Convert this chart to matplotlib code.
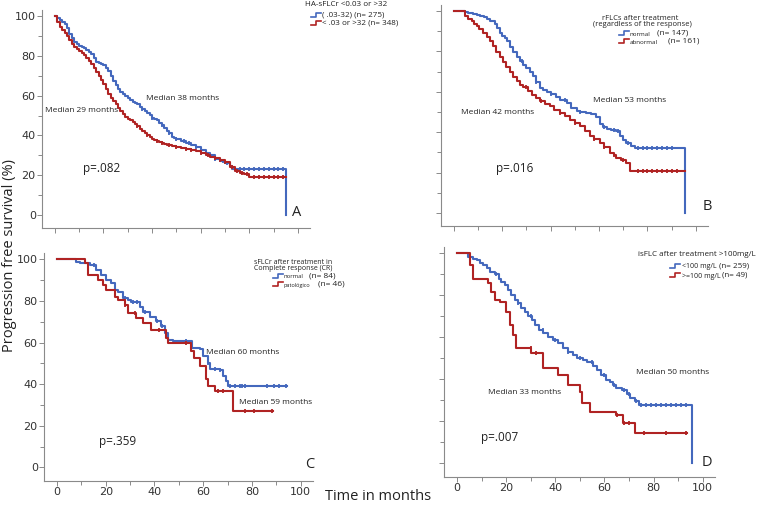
import numpy as np
import matplotlib
matplotlib.use("Agg")
import matplotlib.pyplot as plt
from matplotlib.lines import Line2D

plt.rcParams['font.family'] = ['DejaVu Sans']

BLUE = "#4468bd"
RED = "#b02323"

# ---------------- data ----------------
# Panel A
a_blue_t = [0, 1, 2, 3, 4, 5, 6, 7, 8, 9, 10, 11, 12, 13, 14, 15, 16, 17, 18, 19, 20, 21, 22, 23, 24, 25, 26, 27, 28, 29, 30,
            31, 32, 33, 34, 35, 36, 37, 38, 39, 40, 41, 42, 43, 44, 45, 46, 47, 48, 49, 50, 52, 54, 56, 58, 60, 62, 64, 66, 68,
            70, 72, 73, 95.2]
a_blue_s = [100, 99, 98, 97, 96, 94, 91, 89, 87, 86, 85, 84.5, 84, 83, 82, 81, 79, 77, 76.5, 76, 75.5, 74, 72.5, 70, 67.5,
            65.5, 63.5, 62, 61, 60, 59, 58, 57, 56.5, 56, 54.5, 53.5, 52.5, 51.5, 50.5, 49, 48, 47.5, 46, 45, 43.8, 42, 41, 39,
            38.5, 38, 37, 36, 35, 34, 32.5, 31, 30, 28, 27, 26, 24.5, 22.9, 0]
a_red_t = [0, 1, 2, 3, 4, 5, 6, 7, 8, 9, 10, 11, 12, 13, 14, 15, 16, 17, 18, 19, 20, 21, 22, 23, 24, 25, 26, 27, 28, 29, 30,
           31, 32, 33, 34, 35, 36, 37, 38, 39, 40, 41, 42, 43, 44, 45, 46, 48, 50, 52, 54, 56, 58, 60, 62, 64, 66, 68, 70, 72,
           74, 76, 78, 80, 95.2]
a_red_s = [100, 97, 94.5, 93, 91.5, 90, 88, 86, 84.5, 83.5, 82.5, 81.5, 80.5, 79, 77.5, 76, 74, 72, 70, 68, 66, 63.5, 61, 59,
           57.5, 56, 54, 52.5, 51, 49.5, 48.5, 47.5, 46.5, 45.5, 44.5, 43, 42, 41, 40, 39, 38, 37.5, 37, 36.5, 36, 35.5, 35,
           34.5, 34, 33.5, 33, 32.5, 32, 31, 30, 29.3, 28.5, 27.5, 26.5, 24, 22, 21, 20.5, 19.3, 19.3]
a_blue_c = [36, 40, 44, 47, 50, 53, 55, 58, 62, 64, 66, 69, 71, 74, 76, 78, 80, 82, 84, 86, 88, 90, 92, 94]
a_red_c = [34, 38, 42, 44, 47, 50, 54, 56, 60, 63, 66, 68, 70, 73, 75, 77, 79, 82, 84, 86, 88, 90, 92, 94]

# Panel B
b_blue_t = [0, 4.5, 6, 8, 9.4, 11, 12.5, 13.5, 15, 16.9, 18, 19, 20, 21, 21.8, 23, 24.5, 26, 27.3, 28.5, 30, 31.5, 32.8, 34,
            35.5, 37, 38.3, 40, 42.4, 44, 46.6, 48.5, 50.7, 52, 54.8, 56.5, 58.9, 60.3, 61.5, 63.1, 65, 67.2, 68.6, 70, 71.3,
            73, 74.8, 95.5]
b_blue_s = [100, 99.5, 99, 98.5, 98, 97.5, 97, 96, 95, 93.5, 91.5, 89, 87.5, 86.5, 85, 82, 79.5, 77, 75.5, 73.5, 72, 70, 68,
            65, 62, 61, 60, 59, 57.5, 56, 54.5, 52, 50.5, 50, 49.5, 49, 47.5, 44, 42.5, 41.5, 41, 40.5, 38, 36, 34.5, 33, 32.2, 0]
b_red_t = [0, 4.5, 6, 7.3, 8.5, 9.4, 10.5, 12.1, 13.5, 14.9, 16, 17.6, 19, 20.4, 21.5, 23.1, 24.5, 25.9, 27.3, 28.6, 30.5,
           32.1, 34, 35.5, 37.5, 39.7, 41.5, 43.8, 46, 48, 50, 52.1, 54, 56.2, 58, 60.3, 62, 64.5, 66, 67.2, 69, 71.3, 72.7,
           95.5]
b_red_s = [100, 97.5, 96, 95, 93.5, 92.4, 91, 89, 87, 85, 82.5, 79.5, 77, 75, 72.5, 70, 67.5, 65.2, 63.5, 62.4, 60.5, 58.6,
           57, 55.3, 54, 52.8, 51, 49.5, 48, 46.2, 44.5, 42.9, 40.5, 38, 36.5, 34.6, 32.5, 29.7, 28.5, 27.2, 26, 24.7, 20.6,
           20.6]
b_blue_c = [28, 34, 40, 46, 52, 62, 66, 68, 72, 76, 78, 80, 82, 84, 86, 88, 90]
b_red_c = [30, 36, 44, 50, 58, 62, 66, 70, 76, 78, 80, 82, 84, 86, 88, 90, 92]

# Panel C
c_blue_t = [0, 7.9, 9.3, 13.4, 16.1, 18.2, 20.3, 22.3, 23.7, 25, 27.1, 29.1, 30.5, 33.9, 35.3, 38, 40.8, 42.8, 44.2, 45.6,
            47.6, 52.4, 55.2, 58.6, 59.9, 61.9, 62.6, 66.7, 68.1, 69.5, 70.2, 94.4]
c_blue_s = [100, 98.7, 98, 97, 94.8, 92.4, 90, 88.4, 85.2, 84.4, 81.3, 80.5, 79.7, 77.3, 74.9, 72.5, 70.2, 67.8, 64.6, 61.4,
            60.6, 60.6, 57.5, 56.7, 53.5, 50.3, 47.1, 46.8, 44, 41.6, 39.2, 39.2]
c_red_t = [0, 11.4, 12.7, 16.8, 18.9, 20.3, 23.7, 25, 27.8, 29.1, 32.6, 35.3, 38.7, 42.1, 44.9, 45.6, 55.1, 56.4, 58.5, 61.3,
           61.9, 64.7, 70.9, 72.2, 88.6]
c_red_s = [100, 98, 92.4, 90, 87.6, 85.2, 82, 80.5, 78, 74, 71.7, 69.4, 66.2, 66.2, 62.2, 59.8, 55.9, 52.7, 48.7, 42.4, 39.2,
           36.8, 36.8, 27.3, 27.3]
c_blue_c = [15, 24, 28, 31, 33, 36, 41, 43, 53, 62, 65, 67, 71, 73, 75, 76, 77, 86, 89, 91, 94]
c_red_c = [28, 32, 42, 53, 66, 68, 77, 81, 88]

# Panel D
d_blue_t = [0, 4.5, 6.5, 8, 9.2, 10.5, 12, 13.5, 15.4, 17, 18.1, 19.5, 20.8, 22, 23.5, 25, 26.2, 27.5, 28.9, 30.5, 31.7,
            33.5, 35.1, 37, 39.1, 41, 43.2, 45, 47.3, 49, 51.4, 53, 55.4, 57, 58.8, 60.5, 62.2, 63.5, 64.9, 67, 69, 70.5,
            72.4, 74, 75.8, 95.5]
d_blue_s = [100, 98.4, 97.5, 96.8, 95.5, 94.4, 93, 91.3, 90, 88, 86.5, 84.9, 82.5, 80.2, 78, 76.2, 74, 72.2, 70, 68.2, 66,
            63.5, 62, 60.3, 58.5, 57.1, 55, 53.2, 51.5, 50, 49, 48.4, 46.5, 44.4, 42, 39.7, 38.5, 37.3, 36, 34.9, 33, 31,
            29.5, 27.8, 27.8, 0]
d_red_t = [0, 5.2, 6.5, 7.9, 12.6, 14, 15.4, 17.4, 20.1, 21.5, 22.8, 23.9, 30.3, 35.1, 41.2, 45.2, 50, 50.7, 54.1, 64.9,
           67.7, 72.4, 93.5]
d_red_s = [100, 94.4, 88, 88, 85.7, 81.7, 77.8, 77, 72.2, 65.9, 61.1, 54.8, 52.4, 45.2, 42.1, 37.3, 34.1, 28.6, 24.6, 23,
           19, 14.6, 14.6]
d_blue_c = [16, 25, 30, 35, 40, 45, 50, 55, 60, 64, 68, 70, 73, 75, 77, 79, 81, 83, 85, 87, 89, 91, 93]
d_red_c = [30, 32, 65, 68, 70, 76, 85, 93]

# ---------------- figure ----------------
W, H = 757, 507
fig = plt.figure(figsize=(W / 100, H / 100), dpi=100)


def axes_px(left, right, top, bottom):
    return fig.add_axes([left / W, 1 - bottom / H, (right - left) / W, (bottom - top) / H])


def surv_at(t_arr, s_arr, c):
    t_arr = np.asarray(t_arr)
    s_arr = np.asarray(s_arr)
    idx = np.searchsorted(t_arr, c, side='right') - 1
    return s_arr[idx]


def style(ax, ylabels, xlabels):
    ax.set_xlim(-5.3, 105)
    ax.set_ylim(-6.5, 103)
    for s in ['top', 'right']:
        ax.spines[s].set_visible(False)
    for s in ['left', 'bottom']:
        ax.spines[s].set_color('#8a8a8a')
        ax.spines[s].set_linewidth(0.8)
    ax.set_yticks([0, 20, 40, 60, 80, 100])
    ax.set_yticks([10, 30, 50, 70, 90], minor=True)
    ax.set_xticks([0, 20, 40, 60, 80, 100])
    ax.set_xticks([10, 30, 50, 70, 90], minor=True)
    ax.tick_params(which='both', direction='out', color='#8a8a8a', width=0.7)
    ax.tick_params(which='major', length=3.5, labelsize=8, labelcolor='#333333', pad=1)
    ax.tick_params(which='minor', length=3.0)
    if not ylabels:
        ax.set_yticklabels([])
    if not xlabels:
        ax.set_xticklabels([])
    ax.patch.set_alpha(0)


def draw(ax, t, s, c, color):
    ax.step(t, s, where='post', color=color, lw=1.5)
    ax.plot(c, surv_at(t, s, c), linestyle='none', marker='|', markersize=3.5,
            mew=1.3, color=color)


LF = 'Open Sans'

axA = axes_px(42, 310, 10, 228)
axB = axes_px(441, 708, 5, 226)
axC = axes_px(44, 313, 253, 481)
axD = axes_px(444, 715, 247, 477)

style(axA, True, False)
style(axB, False, False)
style(axC, True, True)
style(axD, False, True)

draw(axA, a_blue_t, a_blue_s, a_blue_c, BLUE)
draw(axA, a_red_t, a_red_s, a_red_c, RED)
draw(axB, b_blue_t, b_blue_s, b_blue_c, BLUE)
draw(axB, b_red_t, b_red_s, b_red_c, RED)
draw(axC, c_blue_t, c_blue_s, c_blue_c, BLUE)
draw(axC, c_red_t, c_red_s, c_red_c, RED)
draw(axD, d_blue_t, d_blue_s, d_blue_c, BLUE)
draw(axD, d_red_t, d_red_s, d_red_c, RED)


def ftext(x, y, s, size, ha='left', va='center', **kw):
    fig.text(x / W, 1 - y / H, s, fontsize=size, ha=ha, va=va, family=LF, color='#222222', **kw)


# annotation texts
ftext(183, 98, "Median 38 months", 6, ha='center')
ftext(82, 111, "Median 29 months", 6, ha='center')
ftext(102, 169, "p=.082", 8.5, ha='center')
ftext(297, 213, "A", 10.5, ha='center')

ftext(630, 100, "Median 53 months", 6, ha='center')
ftext(498, 113, "Median 42 months", 6, ha='center')
ftext(515, 169, "p=.016", 8.5, ha='center')
ftext(707, 207, "B", 10.5, ha='center')

ftext(243, 352, "Median 60 months", 6, ha='center')
ftext(276, 403, "Median 59 months", 6, ha='center')
ftext(118, 442, "p=.359", 8.5, ha='center')
ftext(310, 465, "C", 10.5, ha='center')

ftext(673, 373, "Median 50 months", 6, ha='center')
ftext(525, 393, "Median 33 months", 6, ha='center')
ftext(500, 437, "p=.007", 8.5, ha='center')
ftext(707, 462, "D", 10.5, ha='center')


# legends
def glyph(x0, y, color, w=10):
    xs = [x0, x0 + w * 0.45, x0 + w * 0.45, x0 + w]
    ys = [y + 1.5, y + 1.5, y - 2, y - 2]
    fig.add_artist(Line2D([v / W for v in xs], [1 - v / H for v in ys], color=color, lw=1.2))


# A
ftext(305, 4, "HA-sFLCr <0.03 or >32", 5.8)
glyph(311, 15, BLUE)
ftext(322, 15, "( .03-32) (n= 275)", 5.8)
glyph(311, 23, RED)
ftext(322, 23, "< .03 or >32 (n= 348)", 5.8)

# B
ftext(640, 18, "rFLCs after treatment", 5.5, ha='center')
ftext(642, 24, "(regardless of the response)", 5.5, ha='center')
glyph(619, 33, BLUE)
ftext(630, 34, "normal", 4.5)
ftext(688, 33, "(n= 147)", 6, ha='right')
glyph(619, 41, RED)
ftext(630, 42, "abnormal", 4.5)
ftext(699, 41, "(n= 161)", 6, ha='right')

# C
ftext(293, 262, "sFLCr after treatment in", 5, ha='center')
ftext(293, 268, "Complete response (CR)", 5, ha='center')
glyph(273, 276, BLUE)
ftext(284, 277, "normal", 4.2)
ftext(309, 276, "(n= 84)", 6)
glyph(273, 284, RED)
ftext(284, 285, "patológico", 4.0)
ftext(318, 284, "(n= 46)", 6)

# D
ftext(697, 255, "isFLC after treatment >100mg/L", 5.8, ha='center')
glyph(670, 266, BLUE)
ftext(682, 267, "<100 mg/L", 5)
ftext(719, 266, "(n= 259)", 5.8)
glyph(670, 275, RED)
ftext(682, 276, ">=100 mg/L", 5)
ftext(722, 275, "(n= 49)", 5.8)

# global labels
ftext(10, 255, "Progression free survival (%)", 10.5, ha='center', rotation=90)
ftext(378, 497, "Time in months", 10.5, ha='center')

fig.savefig("out.png", dpi=100)
